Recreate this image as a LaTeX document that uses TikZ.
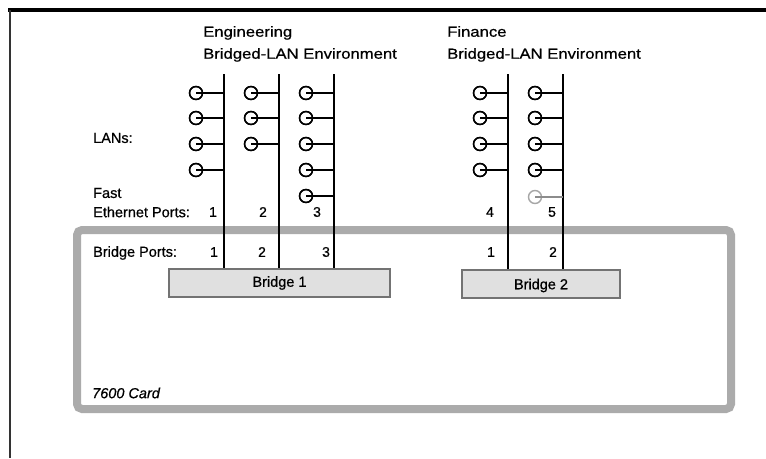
\documentclass[tikz,border=0pt]{standalone}
\usepackage{fontspec}
\setmainfont{Liberation Sans}[FakeBold=0.6]
\newfontfamily\headfont[FakeStretch=1.15,FakeBold=0.6]{Liberation Sans}
\begin{document}
\begin{tikzpicture}[x=1pt,y=-1pt,
  txt/.style={font=\fontsize{14.5}{16}\selectfont, inner sep=0pt},
  head/.style={font=\headfont\fontsize{14.5}{22}\selectfont, inner sep=0pt, align=left, anchor=north west},
  num/.style={font=\fontsize{14}{16}\selectfont, inner sep=0pt},
  bus/.style={line width=2.4pt, black},
  lanline/.style={line width=1.4pt, black},
  lancirc/.style={circle, draw=black, line width=1.4pt, minimum size=13pt, inner sep=0pt, fill=white},
  lancircgray/.style={lancirc, draw=black!35},
  bridgebox/.style={draw=black!55, line width=1.1pt, fill=black!12, inner sep=0pt, font=\fontsize{14.5}{16}\selectfont}
]
\useasboundingbox (0,0) rectangle (766,458);
\fill[white] (0,0) rectangle (766,458);
% outer frame
\draw[line width=3.5pt, black] (8,10) -- (766,10);
\draw[line width=2pt, black!80] (10,10) -- (10,458);

% gray card frame
\draw[line width=8pt, black!33, rounded corners=5pt] (77,230) rectangle (731,409);
\node[txt, font=\itshape\fontsize{14.5}{16}\selectfont, anchor=west] (card) at (92,393) {7600 Card};

% headings
\node[head] (eng) at (203,26) {Engineering\\Bridged-LAN Environment};
\node[head] (fin) at (447,26) {Finance\\Bridged-LAN Environment};

% labels
\node[txt, anchor=west] (lans) at (93,138) {LANs:};
\node[txt, anchor=west] (fast) at (93,193) {Fast};
\node[txt, anchor=west] (eth) at (93,212) {Ethernet Ports:};
\node[txt, anchor=west] (bp) at (93,253) {Bridge Ports:};

% bridges
\node[bridgebox, minimum width=221pt, minimum height=28pt] (b1) at (279.5,283) {Bridge 1};
\node[bridgebox, minimum width=158pt, minimum height=28pt, text depth=-8pt] (b2) at (541,284) {Bridge 2};

% buses
\coordinate (t1) at (224,74);
\coordinate (t2) at (279,74);
\coordinate (t3) at (334,74);
\coordinate (t4) at (508,74);
\coordinate (t5) at (563,74);
\draw[bus] (t1) -- (t1 |- b1.north);
\draw[bus] (t2) -- (t2 |- b1.north);
\draw[bus] (t3) -- (t3 |- b1.north);
\draw[bus] (t4) -- (t4 |- b2.north);
\draw[bus] (t5) -- (t5 |- b2.north);

% LAN stubs
\foreach \bx/\n/\lab in {224/4/a,279/3/b,334/5/c,508/4/d,563/4/e}{
  \foreach \yy [count=\k] in {93,118,144,170,196}{
    \ifnum\k>\n\else
      \node[lancirc] (l\lab\k) at (\bx-28,\yy) {};
      \coordinate (s\lab\k) at (\bx,\yy);
      \draw[lanline] (l\lab\k.center) -- (s\lab\k);
      \node[lancirc, fill=none] at (l\lab\k) {};
    \fi
  }
}
% faded fifth LAN on port 5
\node[lancircgray] (le5) at (535,197) {};
\coordinate (se5) at (563,197);
\draw[lanline, black!45] (le5.center) -- (se5);

% port numbers
\node[num] (e1) at (213,212) {1};
\node[num] (e2) at (263,212) {2};
\node[num] (e3) at (317,212) {3};
\node[num] (e4) at (490,212) {4};
\node[num] (e5) at (552,212) {5};
\node[num] (p1) at (214,252) {1};
\node[num] (p2) at (262,252) {2};
\node[num] (p3) at (326,252) {3};
\node[num] (p4) at (491,252) {1};
\node[num] (p5) at (553,252) {2};
\end{tikzpicture}
\end{document}
